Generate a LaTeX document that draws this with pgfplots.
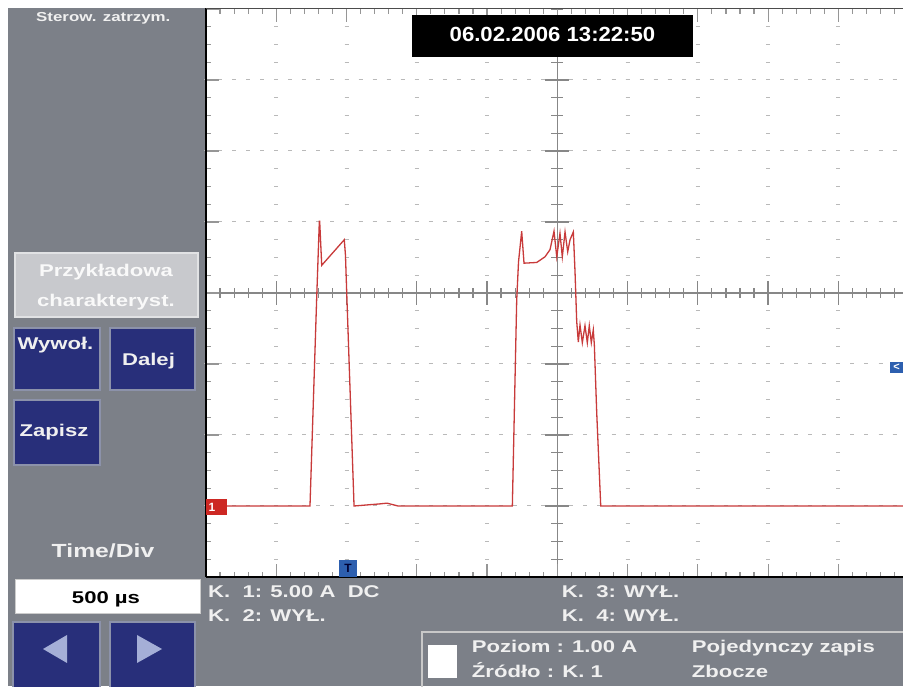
\documentclass[border=0pt]{standalone}
\usepackage{pgfplots}
\pgfplotsset{compat=1.18}
\usepackage{fontspec}
\setmainfont{Liberation Sans}
\newfontfamily\ui[FakeStretch=1.3]{Liberation Sans}
\newfontfamily\dt[FakeStretch=1.08]{Liberation Sans}
\definecolor{panel}{RGB}{124,128,136}
\definecolor{btn}{RGB}{40,47,122}
\definecolor{btnedge}{RGB}{140,146,170}
\definecolor{lightbtn}{RGB}{200,201,205}
\definecolor{lightbtnedge}{RGB}{225,226,228}
\definecolor{trace}{RGB}{200,58,58}
\definecolor{gridc}{RGB}{185,185,185}
\definecolor{axc}{RGB}{135,135,135}
\definecolor{tickc}{RGB}{150,150,150}
\definecolor{txt}{RGB}{240,240,240}
\definecolor{arrowc}{RGB}{165,175,215}
\definecolor{mk}{RGB}{45,95,175}
\definecolor{ch1}{RGB}{205,40,35}
\definecolor{boxc}{RGB}{200,200,200}
\begin{document}
\begin{tikzpicture}[x=1pt,y=1pt]
\useasboundingbox (0,0) rectangle (903,686);
\fill[white] (0,0) rectangle (903,686);
\fill[panel] (8,0) rectangle (206,678);
\fill[panel] (206,0) rectangle (903,109);
% graticule: dotted major grid
\foreach \d in {1,2,3,4,6,7,8,9} {
  \foreach \k in {0,...,32} {
    \draw[gridc, line width=1pt] ({206+70.26*\d-2}, {109+17.75*\k}) -- ++(4,0);
  }
}
\foreach \d in {-3,-2,-1,1,2,3} {
  \foreach \k in {0,...,49} {
    \draw[gridc, line width=1pt] ({206+14.052*\k-2}, {393+71*\d}) -- ++(4,0);
  }
}
% centre cross with ticks
\draw[axc, line width=1.5pt] (206,393) -- (903,393);
\draw[axc, line width=1.5pt] (557.3,109) -- (557.3,677);
\foreach \k in {0,...,49} \draw[axc, line width=1.2pt] ({206+14.052*\k},388) -- ++(0,10);
\foreach \d in {1,...,9} \draw[axc, line width=1.2pt] ({206+70.26*\d},381) -- ++(0,24);
\foreach \k in {0,...,32} \draw[axc, line width=1.2pt] (551.3,{109+17.75*\k}) -- ++(12,0);
\foreach \d in {-3,...,3} \draw[axc, line width=1.2pt] (545.3,{393+71*\d}) -- ++(24,0);
\begin{axis}[at={(206pt,109pt)}, anchor=south west, scale only axis,
  width=697pt, height=568pt,
  xmin=0, xmax=9.92, ymin=-4, ymax=4,
  xtick={0,...,9}, ytick={-4,...,4},
  minor xtick={0.2,0.4,...,9.8}, minor ytick={-3.75,-3.5,...,3.75},
  xticklabels={}, yticklabels={}, ytick pos=left, tick align=inside,
  major tick length=13pt, minor tick length=5pt,
  every tick/.style={tickc, line width=1.2pt},
  axis line style={draw=none}]
\addplot[trace, line width=1.3pt, mark=none] coordinates {
(0,-3) (1.480,-3) (1.576,-0.05) (1.613,1.01) (1.618,1.01) (1.647,0.39)
(1.968,0.75) (1.985,0.53) (2.003,0) (2.107,-3) (2.477,-2.97) (2.576,-2.96)
(2.733,-3) (4.360,-3) (4.422,-0.1) (4.448,0.44) (4.493,0.87) (4.526,0.42)
(4.707,0.43) (4.825,0.51) (4.896,0.61) (4.953,0.87) (4.992,0.51) (5.038,0.84)
(5.071,0.51) (5.110,0.86) (5.148,0.58) (5.181,0.75) (5.228,0.86) (5.252,0.30)
(5.276,-0.40) (5.299,-0.69) (5.323,-0.45) (5.356,-0.70) (5.394,-0.46)
(5.427,-0.70) (5.455,-0.46) (5.484,-0.70) (5.512,-0.52) (5.527,-0.73)
(5.561,-1.69) (5.618,-3) (9.92,-3)
};
\end{axis}
% borders
\draw[black, line width=1.5pt] (206,109) -- (206,678);
\draw[black!70, line width=1.2pt] (206,677.5) -- (903,677.5);
\draw[black, line width=1.5pt] (206,109) -- (903,109);
% markers
\fill[ch1] (206,171) rectangle (227,187);
\node[white, font=\bfseries\fontsize{12}{12}\selectfont] at (212,179) {1};
\fill[mk] (339,109) rectangle (357,126);
\node[text=black!80!blue, font=\bfseries\fontsize{12}{12}\selectfont] at (348,117.5) {T};
\fill[mk] (890,313) rectangle (903,324);
\node[white, font=\bfseries\fontsize{11}{11}\selectfont] at (896.5,318.5) {<};
% date box
\fill[black] (412,629) rectangle (693,671);
\node[white, font=\dt\bfseries\fontsize{20.5}{21}\selectfont] at (552.5,651.5) {06.02.2006 13:22:50};
% left panel
\node[txt, anchor=base, font=\ui\bfseries\fontsize{13}{14}\selectfont] at (103.3,664.3) {Sterow. zatrzym.};
\filldraw[fill=lightbtn, draw=lightbtnedge, line width=1.5pt] (15,369) rectangle (198,433);
\node[anchor=base, text=white!95!gray, font=\ui\bfseries\fontsize{17}{18}\selectfont] at (106,409.3) {Przykładowa};
\node[anchor=base, text=white!95!gray, font=\ui\bfseries\fontsize{17}{18}\selectfont] at (106,379.3) {charakteryst.};
\filldraw[fill=btn, draw=btnedge, line width=1.5pt] (14,296) rectangle (100,358);
\node[anchor=base, txt, font=\ui\bfseries\fontsize{17}{18}\selectfont] at (55.5,336) {Wywoł.};
\filldraw[fill=btn, draw=btnedge, line width=1.5pt] (110,296) rectangle (195,358);
\node[anchor=base, txt, font=\ui\bfseries\fontsize{17}{18}\selectfont] at (148.5,320) {Dalej};
\filldraw[fill=btn, draw=btnedge, line width=1.5pt] (14,221) rectangle (100,286);
\node[anchor=base, txt, font=\ui\bfseries\fontsize{17}{18}\selectfont] at (54,249.3) {Zapisz};
\node[anchor=base, txt, font=\ui\bfseries\fontsize{19}{20}\selectfont] at (103,128.7) {Time/Div};
\filldraw[fill=white, draw=gray!40, line width=1pt] (15,72) rectangle (200,106);
\node[anchor=base, black, font=\ui\bfseries\fontsize{17}{18}\selectfont] at (106,82.7) {500 µs};
\filldraw[fill=btn, draw=btnedge, line width=1.5pt] (13,-2) rectangle (100,64);
\filldraw[fill=btn, draw=btnedge, line width=1.5pt] (110,-2) rectangle (195,64);
\fill[arrowc] (43,37) -- (67,51) -- (67,23) -- cycle;
\fill[arrowc] (162,37) -- (137,51) -- (137,23) -- cycle;
% bottom panel texts
\begin{scope}[every node/.style={inner sep=0pt, anchor=base west, txt}]
\node[font=\ui\bfseries\fontsize{17}{18}\selectfont] at (208,88.3) {K.~~1: 5.00 A~~DC};
\node[font=\ui\bfseries\fontsize{17}{18}\selectfont] at (208,64) {K.~~2: WYŁ.};
\node[font=\ui\bfseries\fontsize{17}{18}\selectfont] at (561.7,88.3) {K.~~3: WYŁ.};
\node[font=\ui\bfseries\fontsize{17}{18}\selectfont] at (561.7,64) {K.~~4: WYŁ.};
\end{scope}
\draw[boxc, line width=1.5pt] (422,-2) rectangle (905,54);
\fill[white] (428,8) rectangle (457,41);
\begin{scope}[every node/.style={inner sep=0pt, anchor=base west, txt}]
\node[font=\ui\bfseries\fontsize{17}{18}\selectfont] at (471.7,33.3) {Poziom : 1.00 A};
\node[font=\ui\bfseries\fontsize{17}{18}\selectfont] at (471.7,8.3) {Źródło : K. 1};
\node[font=\ui\bfseries\fontsize{17}{18}\selectfont] at (691.7,33.3) {Pojedynczy zapis};
\node[font=\ui\bfseries\fontsize{17}{18}\selectfont] at (691.7,8.3) {Zbocze};
\end{scope}
\end{tikzpicture}
\end{document}
